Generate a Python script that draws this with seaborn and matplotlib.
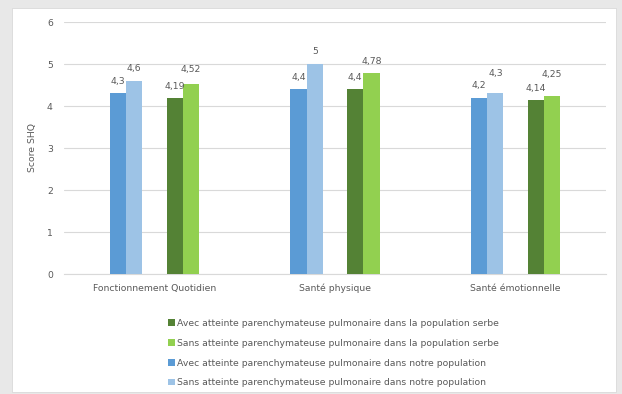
import numpy as np
import pandas as pd
import matplotlib
matplotlib.use("Agg")
import matplotlib.pyplot as plt
from matplotlib.patches import Rectangle
import seaborn as sns

categories = ["Fonctionnement Quotidien", "Santé physique", "Santé émotionnelle"]
serbe_avec = [4.19, 4.40, 4.14]
serbe_sans = [4.52, 4.78, 4.25]
notre_avec = [4.30, 4.40, 4.20]
notre_sans = [4.60, 5.00, 4.30]
series_names = [
    "Avec atteinte parenchymateuse pulmonaire dans la population serbe",
    "Sans atteinte parenchymateuse pulmonaire dans la population serbe",
    "Avec atteinte parenchymateuse pulmonaire dans notre population",
    "Sans atteinte parenchymateuse pulmonaire dans notre population",
]
y_ticks = [0, 1, 2, 3, 4, 5, 6]
y_label = "Score SHQ"

colors = {
    series_names[0]: "#548235",
    series_names[1]: "#92D050",
    series_names[2]: "#5B9BD5",
    series_names[3]: "#9DC3E6",
}
txt = "#595959"
fs = 6.7

sns.set_theme(style="white")
plt.rcParams["font.family"] = ["DejaVu Sans"]

fig = plt.figure(figsize=(6.22, 3.94), dpi=100)
fig.patch.set_facecolor("#e8e8e8")
W, H = 622, 394
fig.add_artist(Rectangle((12 / W, 1 - 392 / H), (616 - 12) / W, (392 - 8) / H,
                         transform=fig.transFigure, facecolor="white",
                         edgecolor="#d9d9d9", lw=0.6, zorder=0))

ax = fig.add_axes([64 / W, 1 - 274 / H, (606 - 64) / W, (274 - 22) / H])
ax.set_facecolor("none")

def frame(a, b, names, offset):
    rows = []
    for i, c in enumerate(categories):
        rows.append({"pos": i + offset, "value": a[i], "series": names[0]})
        rows.append({"pos": i + offset, "value": b[i], "series": names[1]})
    return pd.DataFrame(rows)

bw = 0.0895
df_blue = frame(notre_avec, notre_sans, series_names[2:], -0.157)
df_green = frame(serbe_avec, serbe_sans, series_names[:2], 0.157)

for df, names in [(df_blue, series_names[2:]), (df_green, series_names[:2])]:
    sns.barplot(data=df, x="pos", y="value", hue="series", hue_order=names,
                palette=colors, native_scale=True, width=2 * bw, dodge=True,
                saturation=1, errorbar=None, ax=ax, legend=False, zorder=3,
                linewidth=0)

def fmt(v):
    s = f"{v:.2f}".rstrip("0").rstrip(".")
    return s.replace(".", ",")

# extra vertical offsets (px) for manually lifted labels: (container, category)
extra = {(1, 2): 8, (3, 0): 3, (3, 2): 9}
px = 72 / 100
for ci, cont in enumerate(ax.containers):
    for j, p in enumerate(cont):
        h = p.get_height()
        dy = (12 + extra.get((ci, j), 0)) * px
        ax.annotate(fmt(h), (p.get_x() + p.get_width() / 2, h),
                    xytext=(0, dy), textcoords="offset points",
                    ha="center", va="center", fontsize=fs, color=txt)

ax.set_xlim(-0.5, 2.5)
ax.set_ylim(0, 6)
ax.set_yticks(y_ticks)
ax.set_yticklabels([str(t) for t in y_ticks], fontsize=fs, color=txt)
ax.set_xticks([0, 1, 2])
ax.set_xticklabels(categories, fontsize=fs, color=txt)
ax.set_xticks([-0.5, 0.5, 1.5, 2.5], minor=True)
ax.tick_params(axis="x", which="both", length=4, color="#d9d9d9", width=0.8, pad=3)
ax.tick_params(axis="y", length=0, pad=8)
ax.set_xlabel("")
ax.set_ylabel(y_label, fontsize=fs, color=txt, labelpad=7)
ax.grid(axis="y", color="#d9d9d9", lw=0.8, zorder=0)
ax.set_axisbelow(True)
for s in ["top", "right", "left"]:
    ax.spines[s].set_visible(False)
ax.spines["bottom"].set_color("#d9d9d9")
ax.spines["bottom"].set_linewidth(0.8)

handles = [Rectangle((0, 0), 1, 1, facecolor=colors[n], edgecolor="none") for n in series_names]
leg = fig.legend(handles, series_names, loc="upper left",
                 bbox_to_anchor=(168 / W, 1 - 319 / H), frameon=False,
                 fontsize=fs, labelcolor=txt, handlelength=0.7, handleheight=0.7,
                 handletextpad=0.25, labelspacing=1.16, borderpad=0, borderaxespad=0)

fig.savefig("out.png", dpi=100, facecolor=fig.get_facecolor())
